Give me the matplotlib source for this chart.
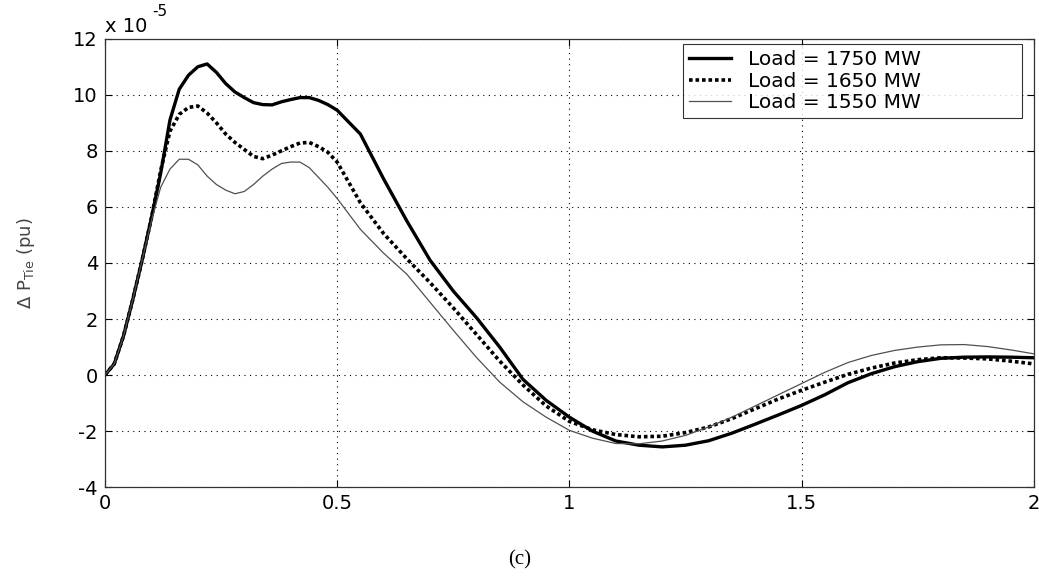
import matplotlib
matplotlib.use("Agg")
import matplotlib.pyplot as plt

# time (s)
t = [0, 0.02, 0.04, 0.06, 0.08, 0.10, 0.12, 0.14, 0.16, 0.18, 0.20, 0.22, 0.24, 0.26, 0.28,
     0.30, 0.32, 0.34, 0.36, 0.38, 0.40, 0.42, 0.44, 0.46, 0.48, 0.50, 0.55, 0.60, 0.65, 0.70,
     0.75, 0.80, 0.85, 0.90, 0.95, 1.00, 1.05, 1.10, 1.15, 1.20, 1.25, 1.30, 1.35, 1.40, 1.45,
     1.50, 1.55, 1.60, 1.65, 1.70, 1.75, 1.80, 1.85, 1.90, 1.95, 2.00]

# delta P tie (x 1e-5 pu)
p_1750 = [0, 0.4, 1.4, 2.7, 4.1, 5.6, 7.2, 9.1, 10.2, 10.7, 11.0, 11.1, 10.8, 10.4, 10.1,
          9.9, 9.72, 9.65, 9.64, 9.75, 9.83, 9.9, 9.9, 9.8, 9.65, 9.45, 8.6, 7.0, 5.5, 4.1,
          3.0, 2.05, 1.0, -0.15, -0.9, -1.5, -2.0, -2.35, -2.5, -2.56, -2.5, -2.34, -2.07, -1.75, -1.42,
          -1.08, -0.7, -0.27, 0.05, 0.3, 0.48, 0.6, 0.64, 0.65, 0.64, 0.62]
p_1650 = [0, 0.4, 1.4, 2.7, 4.1, 5.6, 7.3, 8.7, 9.3, 9.55, 9.6, 9.35, 9.0, 8.6, 8.3,
          8.05, 7.8, 7.72, 7.85, 8.0, 8.15, 8.28, 8.3, 8.15, 7.95, 7.6, 6.15, 5.05, 4.15, 3.3,
          2.4, 1.45, 0.5, -0.35, -1.1, -1.65, -1.95, -2.12, -2.2, -2.18, -2.05, -1.85, -1.55, -1.2, -0.85,
          -0.54, -0.25, 0.03, 0.25, 0.43, 0.55, 0.62, 0.61, 0.58, 0.5, 0.4]
p_1550 = [0, 0.4, 1.4, 2.7, 4.1, 5.5, 6.7, 7.35, 7.7, 7.7, 7.5, 7.1, 6.8, 6.6, 6.47,
          6.55, 6.8, 7.1, 7.35, 7.55, 7.6, 7.6, 7.4, 7.05, 6.7, 6.3, 5.2, 4.35, 3.6, 2.6,
          1.6, 0.63, -0.25, -0.95, -1.5, -1.97, -2.25, -2.44, -2.45, -2.35, -2.15, -1.85, -1.5, -1.1, -0.7,
          -0.3, 0.1, 0.45, 0.7, 0.88, 1.0, 1.08, 1.09, 1.02, 0.9, 0.76]

labels = ["Load = 1750 MW", "Load = 1650 MW", "Load = 1550 MW"]
xticks = [0, 0.5, 1, 1.5, 2]
xtick_labels = ["0", "0.5", "1", "1.5", "2"]
yticks = [-4, -2, 0, 2, 4, 6, 8, 10, 12]

plt.rcParams['font.family'] = ['DejaVu Sans']
plt.rcParams['axes.unicode_minus'] = False

fig = plt.figure(figsize=(10.39, 5.78), dpi=100)
ax = fig.add_axes([0.101, 0.157, 0.894, 0.776])

ax.plot(t, p_1750, color='black', linewidth=2.4, label=labels[0])
ax.plot(t, p_1650, color='black', linewidth=2.6, linestyle=(0, (1, 0.8)), label=labels[1])
ax.plot(t, p_1550, color='#505050', linewidth=0.9, label=labels[2])

ax.set_xlim(0, 2)
ax.set_ylim(-4, 12)
ax.set_xticks(xticks)
ax.set_xticklabels(xtick_labels)
ax.set_yticks(yticks)
ax.tick_params(direction='in', length=5, width=0.8, top=True, right=True, labelsize=14, pad=5)
for s in ax.spines.values():
    s.set_linewidth(0.9)
    s.set_color('#333333')

# matlab style grid
ax.grid(True, color='black', linestyle=(0, (1, 4)), linewidth=0.8)

ax.set_ylabel(r'$\Delta$ P$_{\mathregular{Tie}}$ (pu)', fontsize=13, color='#444444', labelpad=26)

# exponent label above the axis
ax.text(0.0, 1.005, 'x 10', transform=ax.transAxes, fontsize=14, ha='left', va='bottom')
ax.text(0.051, 1.045, '-5', transform=ax.transAxes, fontsize=11, ha='left', va='bottom')

leg = ax.legend(loc='upper left', bbox_to_anchor=(0.622, 0.5, 0.365, 0.488), mode='expand',
                fontsize=14.5, frameon=True, fancybox=False, handlelength=2.1,
                handletextpad=0.85, borderpad=0.3, labelspacing=0.12, borderaxespad=0.0)
leg.get_frame().set_edgecolor('black')
leg.get_frame().set_linewidth(0.8)

fig.text(0.50, 0.032, '(c)', fontsize=15, family=['Liberation Serif', 'DejaVu Serif'],
         ha='center', va='center')

fig.savefig('out.png', dpi=100)
